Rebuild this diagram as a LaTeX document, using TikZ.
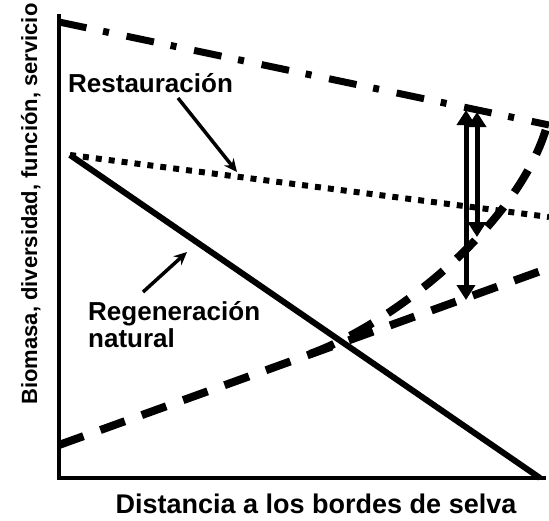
\documentclass[tikz,border=0pt]{standalone}
\usepackage{fontspec}
\setmainfont{Liberation Sans}
\usetikzlibrary{arrows.meta, positioning, calc}

\begin{document}
\begin{tikzpicture}[
    x=1pt, y=-1pt,
    axis/.style={line width=3.5pt},
    natline/.style={line width=6pt},
    restline/.style={line width=6pt, dash pattern=on 6pt off 7pt},
    refline/.style={line width=7pt, dash pattern=on 28pt off 17pt on 6pt off 18pt},
    degline/.style={line width=8pt, dash pattern=on 26pt off 18pt},
    pointer/.style={-{Stealth[length=13pt, width=12pt]}, line width=3.5pt},
    gaparrow/.style={{Triangle[length=15pt, width=18pt]}-{Triangle[length=15pt, width=18pt]}, line width=5pt},
    lbl/.style={font=\fontsize{26}{27}\selectfont\bfseries, inner sep=0pt, align=left}
]
    \useasboundingbox (0,0) rectangle (549,520);

    % Axes
    \coordinate (origin) at (59,478);
    \coordinate (ytop) at (59,14);
    \coordinate (xend) at (546,478);
    \draw[axis] (ytop) -- (origin) -- (xend);

    % Curves
    \coordinate (refA) at (59,22);
    \coordinate (refB) at (549,125);
    \coordinate (start) at (70,155);
    \coordinate (restB) at (549,217);
    \coordinate (natB) at (540,478);
    \coordinate (degA) at (59,445);
    \coordinate (degB) at (549,268);
    \coordinate (split) at (310,354);
    \coordinate (degC) at (549,118);
    \draw[refline] (refA) -- (refB);
    \draw[restline] (start) -- (restB);
    \draw[natline] (start) -- (natB);
    \draw[degline] (degA) -- (degB);
    \draw[degline] (split) .. controls (395,323) and (525,220) .. (degC);

    % Gaps
    \coordinate (gap1top) at (466,110);
    \coordinate (gap1bot) at (466,300);
    \coordinate (gap2top) at (477,112);
    \coordinate (gap2bot) at (477,237);
    \draw[gaparrow] (gap1top) -- (gap1bot);
    \draw[gaparrow] (gap2top) -- (gap2bot);

    % Labels
    \node[lbl, anchor=base west] (restlbl) at (68,92) {Restauración};
    \node[lbl, anchor=base west] (natlbl) at (88,347) {Regeneración\\natural};
    \coordinate (restfrom) at (178,98);
    \coordinate (restto) at (237,172);
    \coordinate (natfrom) at (143,292);
    \coordinate (natto) at (187,252);
    \draw[pointer] (restfrom) -- (restto);
    \draw[pointer] (natfrom) -- (natto);

    % Axis titles
    \node[rotate=90, anchor=base, inner sep=0pt, font=\fontsize{22}{24}\selectfont\bfseries] (ylbl) at (37,204) {Biomasa, diversidad, función, servicio};
    \node[anchor=base, inner sep=0pt, font=\fontsize{27}{30}\selectfont\bfseries] (xlbl) at (316,513) {Distancia a los bordes de selva};
\end{tikzpicture}
\end{document}
